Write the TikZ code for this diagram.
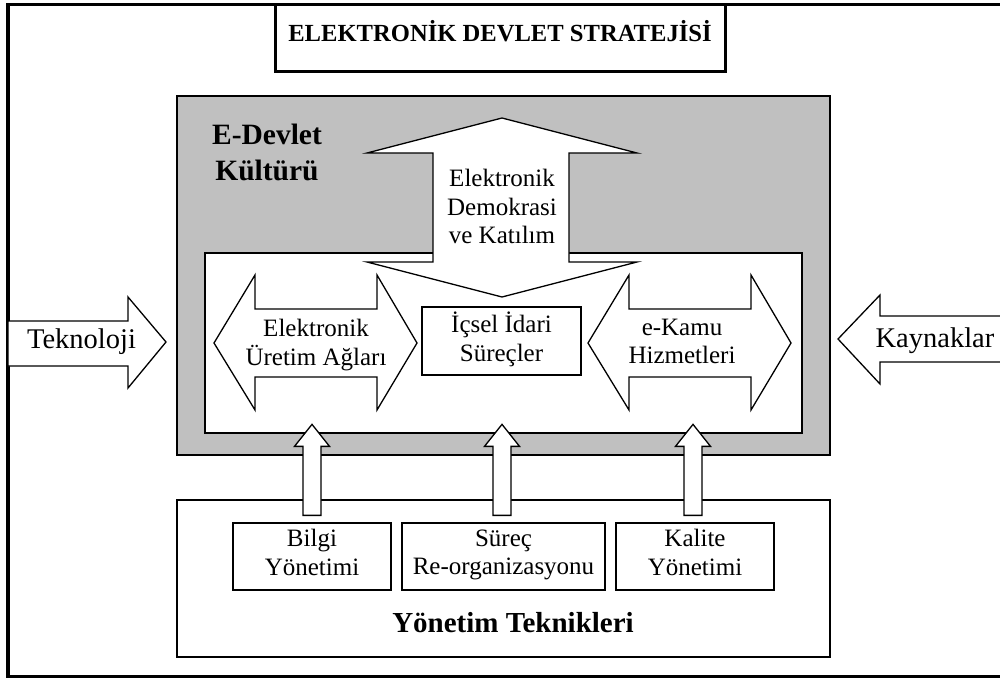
\documentclass[tikz,border=0pt]{standalone}
\usepackage{fontspec}
\setmainfont{Liberation Serif}
\definecolor{panelgray}{HTML}{C0C0C0}
\begin{document}
\begin{tikzpicture}[x=1pt,y=-1pt,
  outline/.style={draw=black,line width=1.3pt,line join=miter},
  blockarrow/.style={outline,fill=white},
  struts/.style={execute at begin node=\strut,execute at end node=\strut},
  plainbox/.style={outline,fill=white,rectangle,inner sep=0pt,align=center,struts,
    font=\fontsize{25}{28.5}\selectfont},
  label/.style={inner sep=0pt,align=center,struts,font=\fontsize{25}{28.5}\selectfont},
  sidelabel/.style={inner sep=0pt,font=\fontsize{28.5}{32}\selectfont},
  uparrow/.pic={\draw[blockarrow] (0,0) -- (17.5,22) -- (9,22) -- (9,91)
      -- (-9,91) -- (-9,22) -- (-17.5,22) -- cycle;}]
\useasboundingbox (0,0) rectangle (1000,679);
\clip (0,0) rectangle (1000,679);

% outer frame
\draw[line width=3.2pt] (8,4.5) rectangle (1004,676.5);

% title
\node[draw,line width=3pt,minimum width=450pt,minimum height=67pt,inner sep=0pt]
  (title) at (500,38) {};
\node[anchor=base,inner sep=0pt,font=\fontsize{24.6}{28}\selectfont\bfseries]
  (titletext) at (500,42) {ELEKTRONİK DEVLET STRATEJİSİ};

% e-government culture panel and its inner area
\node[outline,fill=panelgray,minimum width=653pt,minimum height=359pt,inner sep=0pt]
  (culture) at (503.5,275.5) {};
\node[outline,fill=white,minimum width=597pt,minimum height=180pt,inner sep=0pt]
  (inner) at (503.5,343) {};
\node[inner sep=0pt,align=center,struts,font=\fontsize{29.5}{36}\selectfont\bfseries]
  (culturetext) at (267,157.8) {E-Devlet\\Kültürü};

% vertical double arrow
\draw[blockarrow] (502,118) -- (637,153) -- (569,153) -- (569,262) -- (637,262)
  -- (502,297) -- (367,262) -- (433,262) -- (433,153) -- (367,153) -- cycle;
\node[label] (demokrasi) at (502,210.8) {Elektronik\\Demokrasi\\ve Katılım};

% horizontal double arrows
\draw[blockarrow] (214,343) -- (255,275) -- (255,309) -- (377,309) -- (377,275)
  -- (417,343) -- (377,410) -- (377,377) -- (255,377) -- (255,410) -- cycle;
\node[label] (uretim) at (316,346.5) {Elektronik\\Üretim Ağları};

\draw[blockarrow] (588,343) -- (629,275) -- (629,309) -- (751,309) -- (751,275)
  -- (791,343) -- (751,410) -- (751,377) -- (629,377) -- (629,410) -- cycle;
\node[label] (kamu) at (682,345.5) {e-Kamu\\Hizmetleri};

\node[plainbox,minimum width=159pt,minimum height=68pt] (icsel) at (501.5,341)
  {İçsel İdari\\Süreçler};

% side inputs
\draw[blockarrow] (8,321) -- (128,321) -- (128,297) -- (166,342) -- (128,388)
  -- (128,366) -- (8,366) -- cycle;
\node[sidelabel,anchor=base] (teknoloji) at (81.5,348) {Teknoloji};

\draw[blockarrow] (838,339) -- (880,295) -- (880,316) -- (1006,316) -- (1006,362)
  -- (880,362) -- (880,384) -- cycle;
\node[sidelabel,anchor=base] (kaynaklar) at (935,347) {Kaynaklar};

% management techniques
\node[outline,fill=white,minimum width=653pt,minimum height=157pt,inner sep=0pt]
  (techniques) at (503.5,578.5) {};
\node[anchor=base,inner sep=0pt,font=\fontsize{29}{34}\selectfont\bfseries]
  (techtext) at (513,632) {Yönetim Teknikleri};

\node[plainbox,minimum width=158pt,minimum height=67pt] (bilgi) at (312,556.5)
  {Bilgi\\Yönetimi};
\node[plainbox,minimum width=203pt,minimum height=67pt] (surec) at (503.5,556.5)
  {Süreç\\Re-organizasyonu};
\node[plainbox,minimum width=158pt,minimum height=67pt] (kalite) at (695,556.5)
  {Kalite\\Yönetimi};

% upward arrows from the techniques into the inner area
\pic at ([yshift=98pt]bilgi.north) {uparrow};
\pic at ([xshift=-1.5pt,yshift=98pt]surec.north) {uparrow};
\pic at ([xshift=-2pt,yshift=98pt]kalite.north) {uparrow};
\end{tikzpicture}
\end{document}
